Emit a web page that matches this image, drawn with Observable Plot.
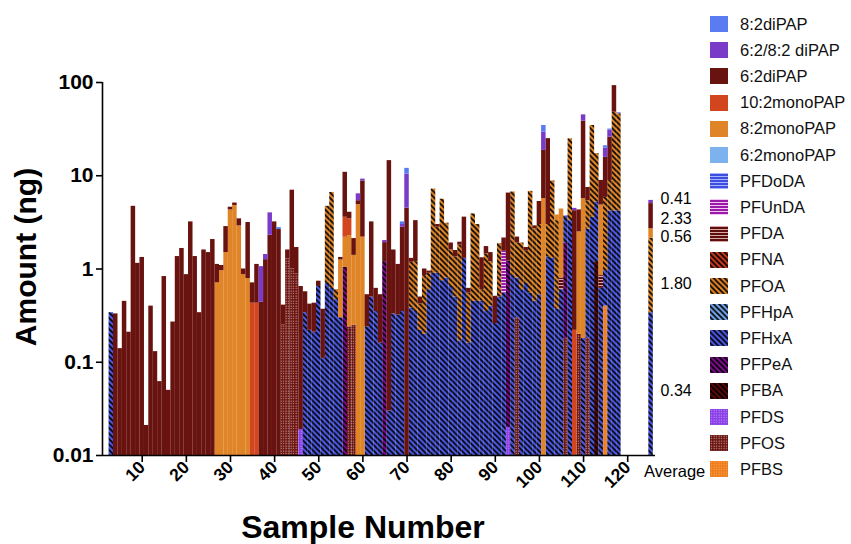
<!DOCTYPE html>
<html><head><meta charset="utf-8">
<script src="https://cdn.jsdelivr.net/npm/d3@7"></script>
<script src="https://cdn.jsdelivr.net/npm/@observablehq/plot@0.6"></script>
<style>
body{margin:0;background:#fff;font-family:"Liberation Sans",Arial,Helvetica,sans-serif;}
#wrap{position:relative;width:851px;height:544px;overflow:hidden;background:#fff;}
#chart{position:absolute;left:0;top:0;}
#legend{position:absolute;left:708px;top:0;width:143px;height:544px;}
.item{position:absolute;left:0;height:20px;display:flex;align-items:center;white-space:nowrap;font-size:16.5px;color:#111;}
.item svg{margin-right:12px;}
</style></head><body>
<svg width="0" height="0" style="position:absolute"><defs id="defs"></defs></svg>
<div id="wrap"><div id="chart"></div><div id="legend"></div></div>
<script>
// ---------- data (amount in ng per sample, [sample number, amount]) ----------
const PFBS = [[115,0.4]];
const PFOS = [[42,0.25],[43,1.29],[44,1.0],[45,0.88],[57,0.24],[58,0.25],[95,0.3],[106,0.18],[109,0.2],[111,0.18]];
const PFDS = [[46,0.019],[93,0.02]];
const PFBA = [[113,1.2]];
const PFPeA = [[56,1.04],[65,1.2],[93,1.2],[106,1.7]];
const PFHxA = [[3,0.34],[47,0.34],[48,0.22],[49,0.21],[50,0.65],[51,0.11],[52,0.7],[53,0.62],[54,0.47],[55,0.3],[61,0.24],[62,0.5],[63,0.35],[64,0.16],[66,0.03],[67,0.33],[68,0.32],[69,0.35],[71,0.38],[72,0.35],[73,0.22],[74,0.2],[75,0.6],[76,0.9],[77,0.9],[78,0.75],[79,0.8],[80,0.65],[81,0.5],[82,0.17],[83,1.3],[84,0.16],[85,0.45],[86,0.45],[87,0.45],[88,0.35],[89,0.4],[90,0.26],[91,0.5],[92,0.55],[94,0.85],[95,0.5],[96,0.6],[97,0.7],[98,0.55],[99,0.45],[100,0.53],[102,1.35],[103,1.3],[104,0.37],[105,0.6],[106,1.82],[107,3.3],[110,0.18],[111,2.5],[112,3.6],[113,4.0],[114,0.62],[115,0.56],[116,4.2],[117,4.2],[118,4.2]];
const PFHpA = [];
const PFOA = [[52,4.0],[53,6.0],[54,0.13],[71,0.8],[72,0.85],[73,0.2],[74,0.65],[75,0.3],[76,6.3],[77,1.9],[78,4.85],[79,2.3],[80,0.95],[81,0.85],[82,1.63],[84,0.39],[85,3.45],[86,2.55],[87,0.15],[88,1.1],[89,0.8],[91,1.37],[94,5.85],[95,1.1],[96,1.3],[97,0.85],[98,6.25],[99,2.25],[100,2.47],[102,1.65],[103,7.5],[104,2.93],[107,21.6],[111,2.7],[112,31],[113,12.1],[115,4.9],[116,4.7],[117,43.8],[118,42]];
const PFNA = [];
const PFDA = [[105,0.2],[114,0.23]];
const PFUnDA = [[92,1.0]];
const PFDoDA = [];
const monoPAP62 = [[118,1.0]];
const monoPAP82 = [[27,0.71],[28,0.96],[29,1.5],[30,4.3],[31,4.8],[32,2.9],[33,0.87],[34,0.79],[55,0.95],[56,1.15],[57,2.04],[58,1.15],[59,4.9],[60,2.2],[101,5.7],[104,0.5],[105,3.6],[109,2.3],[110,5.5],[114,4.0]];
const monoPAP102 = [[35,0.43],[36,0.43],[56,1.4],[57,1.17],[108,0.22]];
const diPAP62 = [[4,0.33],[5,0.14],[6,0.45],[7,0.21],[8,4.7],[9,1.15],[10,1.33],[11,0.021],[12,0.40],[13,0.13],[14,0.062],[15,0.83],[16,0.05],[17,0.27],[18,1.36],[19,1.66],[20,0.87],[21,3.2],[22,1.36],[23,0.34],[24,1.6],[25,1.5],[26,2.07],[27,0.41],[28,0.13],[29,1.35],[30,0.3],[31,0.3],[32,0.55],[33,0.13],[34,2.36],[35,0.28],[36,0.69],[37,0.44],[38,1.26],[39,2.3],[40,3.2],[41,2.65],[42,0.16],[43,0.31],[44,6.0],[45,0.82],[46,0.63],[47,0.23],[48,0.20],[49,0.22],[50,0.09],[51,0.26],[55,0.08],[56,7.3],[57,0.61],[58,0.72],[59,0.5],[60,6.6],[61,0.29],[62,2.7],[63,0.27],[64,0.37],[65,0.72],[66,14.5],[67,1.27],[68,0.8],[69,2.45],[70,4.5],[71,0.12],[72,2.1],[73,0.08],[74,0.15],[75,0.05],[77,0.2],[80,0.3],[81,0.23],[82,0.14],[83,2.3],[84,0.07],[87,0.72],[88,0.29],[89,0.3],[90,0.25],[92,0.6],[93,5.3],[95,0.3],[97,0.15],[99,0.2],[100,2.3],[101,13],[102,22],[108,4.0],[109,1.8],[110,32.8],[111,2.1],[114,4.05],[115,9.9],[116,17],[117,44.6]];
const diPAP6282 = [[37,0.62],[38,0.17],[39,1.7],[59,1.0],[60,0.4],[65,0.1],[69,0.2],[70,5.9],[101,10.7],[108,0.25],[110,6.5],[115,4.0],[116,5.0],[118,0.5]];
const diPAP82 = [[41,0.13],[69,0.2],[70,1.6],[101,5.2],[115,1.2],[116,0.8]];

// Average bar
const avgCompounds = ["PFHxA","PFOA","8:2monoPAP","6:2diPAP","6:2/8:2 diPAP"];
const avgValues = [0.34,1.80,0.56,2.33,0.41];
const avgLabels = ["0.34","1.80","0.56","2.33","0.41"];
const avgPos = 125.3;

const xTicks = [10,20,30,40,50,60,70,80,90,100,110,120];
const yTicks = [0.01,0.1,1,10,100];

// stack order bottom -> top (legend shows it reversed)
const stackOrder = ["PFBS","PFOS","PFDS","PFBA","PFPeA","PFHxA","PFHpA","PFOA","PFNA","PFDA","PFUnDA","PFDoDA","6:2monoPAP","8:2monoPAP","10:2monoPAP","6:2diPAP","6:2/8:2 diPAP","8:2diPAP"];
const seriesLists = {"PFBS":PFBS,"PFOS":PFOS,"PFDS":PFDS,"PFBA":PFBA,"PFPeA":PFPeA,"PFHxA":PFHxA,"PFHpA":PFHpA,"PFOA":PFOA,"PFNA":PFNA,"PFDA":PFDA,"PFUnDA":PFUnDA,"PFDoDA":PFDoDA,"6:2monoPAP":monoPAP62,"8:2monoPAP":monoPAP82,"10:2monoPAP":monoPAP102,"6:2diPAP":diPAP62,"6:2/8:2 diPAP":diPAP6282,"8:2diPAP":diPAP82};

// ---------- styles ----------
const styleSpec = {
  "8:2diPAP":{t:"solid",c:"#5a7cf2"},
  "6:2/8:2 diPAP":{t:"solid",c:"#7a3cc8"},
  "6:2diPAP":{t:"solid",c:"#68130f"},
  "10:2monoPAP":{t:"solid",c:"#d2461f"},
  "8:2monoPAP":{t:"solid",c:"#e08428"},
  "6:2monoPAP":{t:"solid",c:"#7cb2ee"},
  "PFDoDA":{t:"stripes",c:"#3d4fe0",a:"#a8b4ff"},
  "PFUnDA":{t:"stripes",c:"#9a1aa8",a:"#f3c6f3"},
  "PFDA":{t:"stripes",c:"#5e0e0a",a:"#d8a8a8"},
  "PFNA":{t:"hatch",c:"#c7381c",a:"#000"},
  "PFOA":{t:"hatch",c:"#e08428",a:"#000"},
  "PFHpA":{t:"hatch",c:"#72a4ea",a:"#000"},
  "PFHxA":{t:"hatch",c:"#4b58e2",a:"#000"},
  "PFPeA":{t:"hatch",c:"#7c0a8c",a:"#000"},
  "PFBA":{t:"hatch",c:"#5a0808",a:"#000"},
  "PFDS":{t:"dots",c:"#8a3ee6",a:"#c9a2ff"},
  "PFOS":{t:"dots",c:"#6a1410",a:"#e6c2c2"},
  "PFBS":{t:"dots",c:"#ee7c1c",a:"#ffb466"}
};
const pid = c => "pat_" + c.replace(/[^a-zA-Z0-9]/g,"_");

const defs = d3.select("#defs");
for (const c of stackOrder) {
  const s = styleSpec[c];
  if (s.t === "solid") {
    const p = defs.append("pattern").attr("id",pid(c)).attr("patternUnits","userSpaceOnUse").attr("width",4).attr("height",4);
    p.append("rect").attr("width",4).attr("height",4).attr("fill",s.c);
  } else if (s.t === "hatch") {
    const w = 5.5;
    const p = defs.append("pattern").attr("id",pid(c)).attr("patternUnits","userSpaceOnUse").attr("width",w).attr("height",w);
    p.append("rect").attr("width",w).attr("height",w).attr("fill",s.c);
    p.append("path").attr("d",`M-1,-1L${w+1},${w+1}M-1,${w-1}L1,${w+1}M${w-1},-1L${w+1},1`).attr("stroke",s.a).attr("stroke-width",1.7);
  } else if (s.t === "stripes") {
    const p = defs.append("pattern").attr("id",pid(c)).attr("patternUnits","userSpaceOnUse").attr("width",4).attr("height",3);
    p.append("rect").attr("width",4).attr("height",3).attr("fill",s.c);
    p.append("rect").attr("width",4).attr("height",1).attr("fill",s.a);
  } else {
    const p = defs.append("pattern").attr("id",pid(c)).attr("patternUnits","userSpaceOnUse").attr("width",2.5).attr("height",2.5);
    p.append("rect").attr("width",2.5).attr("height",2.5).attr("fill",s.c);
    p.append("rect").attr("x",0.6).attr("y",0.6).attr("width",1).attr("height",1).attr("fill",s.a);
  }
}

// ---------- stacked rows ----------
const yMin = yTicks[0];
const lookup = new Map();
const sampleSet = new Set();
for (const c of stackOrder) for (const [s,v] of seriesLists[c]) { lookup.set(c+"|"+s, v); sampleSet.add(s); }
const sampleIds = [...sampleSet].sort((a,b)=>a-b);
const rows = [];
for (const s of sampleIds) {
  let cum = 0;
  for (const c of stackOrder) {
    const v = lookup.get(c+"|"+s) || 0;
    if (v > 0) { rows.push({compound:c, x:s, y1: cum > 0 ? cum : yMin, y2: cum + v}); cum += v; }
  }
}
const avgRows = [];
{
  let cum = 0;
  for (const c of stackOrder) {
    const i = avgCompounds.indexOf(c);
    if (i < 0) continue;
    const v = avgValues[i];
    const r = {compound:c, x:avgPos, y1: cum > 0 ? cum : yMin, y2: cum + v, label: avgLabels[i]};
    r.mid = Math.sqrt(r.y1 * r.y2);
    avgRows.push(r); rows.push(r); cum += v;
  }
}
// small vertical nudges (px) of the average labels, as placed in the reference
const labelNudge = {"0.41": -3, "2.33": 3, "0.56": 3, "1.80": 8, "0.34": 7};

const xDomain = [1.0, 126.3];
const barMarks = stackOrder.map(c => Plot.rect(rows.filter(r => r.compound === c), {
  x1: r => r.x - 0.51, x2: r => r.x + 0.51, y1: "y1", y2: "y2", fill: `url(#${pid(c)})`, inset: 0
}));
const labelMarks = avgRows.map(r => Plot.text([r], {x: "x", y: "mid", text: "label", dx: 9.5, dy: labelNudge[r.label], textAnchor: "start", fontSize: 16}));

const chart = Plot.plot({
  width: 705, height: 544,
  marginLeft: 102, marginRight: 50, marginTop: 82, marginBottom: 89,
  style: {fontFamily: '"Liberation Sans", Arial, Helvetica, sans-serif', background: "#fff", color: "#000"},
  x: {type: "linear", domain: xDomain, axis: null},
  y: {type: "log", domain: [yTicks[0], yTicks[yTicks.length-1]], axis: null},
  marks: [
    ...barMarks,
    Plot.ruleY([yMin], {x1: xDomain[0], x2: xDomain[1], stroke: "#000", strokeWidth: 1.6}),
    Plot.ruleX([xDomain[0]], {y1: yTicks[0], y2: yTicks[yTicks.length-1], stroke: "#000", strokeWidth: 1.6}),
    Plot.axisX(xTicks, {tickSize: 7, strokeWidth: 1.6, tickRotate: -45, tickPadding: 2, fontSize: 17.5, fontWeight: "bold", tickFormat: d => String(d), label: null}),
    Plot.axisY(yTicks, {tickSize: 6, strokeWidth: 1.6, tickPadding: 3, fontSize: 21, fontWeight: "bold", tickFormat: d => String(d), label: null}),
    Plot.text(["Average"], {x: avgPos, y: yMin, text: d => d, dx: -7, dy: 16, textAnchor: "start", fontSize: 16.5}),
    ...labelMarks,
    Plot.text(["Amount (ng)"], {frameAnchor: "left", text: d => d, rotate: -90, dx: -76, dy: -12, textAnchor: "middle", lineAnchor: "middle", fontSize: 30, fontWeight: "bold"}),
    Plot.text(["Sample Number"], {frameAnchor: "bottom", text: d => d, dx: -16, dy: 72, textAnchor: "middle", lineAnchor: "middle", fontSize: 32, fontWeight: "bold"})
  ]
});
document.getElementById("chart").appendChild(chart);

// ---------- legend ----------
const legend = d3.select("#legend");
stackOrder.slice().reverse().forEach((c, i) => {
  const it = legend.append("div").attr("class","item").style("top", (24 + i*26.2 - 10) + "px");
  const sw = it.append("svg").attr("width",20).attr("height",16);
  sw.append("rect").attr("x",2).attr("y",0).attr("width",18).attr("height",16).attr("fill",`url(#${pid(c)})`);
  it.append("span").text(c);
});
</script>
</body></html>
